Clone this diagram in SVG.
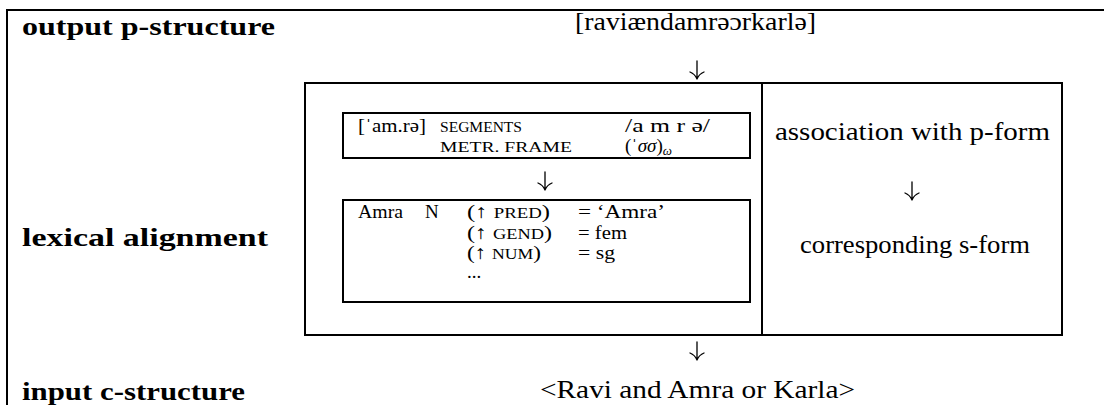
<svg xmlns="http://www.w3.org/2000/svg" width="1104" height="405" viewBox="0 0 1104 405">
<style>
.frame{fill:none;stroke:#000;stroke-width:2}
.t{font-family:"Liberation Serif","Times New Roman",serif;fill:#000}
.main{font-size:25px}
.b{font-weight:bold}
.sm{font-size:19px}
.sc{font-size:14.5px}
.arr{fill:none;stroke:#000;stroke-width:1.3;stroke-linecap:round}
</style>
<rect width="1104" height="405" fill="#fff"/>
<g id="frame">
<path class="frame" d="M7,405 V10 H1104"/>
</g>
<g id="row-labels">
<text class="t main b" x="22" y="35" textLength="253" lengthAdjust="spacingAndGlyphs">output p-structure</text>
<text class="t main b" x="22" y="246" textLength="246" lengthAdjust="spacingAndGlyphs">lexical alignment</text>
<text class="t main b" x="22" y="400" textLength="223" lengthAdjust="spacingAndGlyphs">input c-structure</text>
</g>
<g id="output-form">
<text class="t main" x="575" y="30" textLength="241" lengthAdjust="spacingAndGlyphs">[raviændamrəɔrkarlə]</text>
</g>
<g id="alignment-box">
<rect class="frame" x="305" y="83" width="757" height="252"/>
<line class="frame" x1="762" y1="83" x2="762" y2="335"/>
</g>
<g id="p-form-entry">
<rect class="frame" x="343" y="113" width="407" height="45"/>
<text class="t sm" x="358" y="132" textLength="68" lengthAdjust="spacingAndGlyphs">[ˈam.rə]</text>
<text class="t sc" x="440" y="132" textLength="82" lengthAdjust="spacingAndGlyphs">SEGMENTS</text>
<text class="t sm" x="625" y="132" textLength="85" lengthAdjust="spacingAndGlyphs">/a m r ə/</text>
<text class="t sc" x="440" y="152" textLength="132" lengthAdjust="spacingAndGlyphs">METR.  FRAME</text>
<text class="t sm" x="625" y="152">(ˈ<tspan font-style="italic">σσ</tspan>)<tspan font-style="italic" font-size="13" dy="3">ω</tspan></text>
</g>
<g id="s-form-entry">
<rect class="frame" x="343" y="200" width="407" height="102"/>
<text class="t sm" x="358" y="218" textLength="45" lengthAdjust="spacingAndGlyphs">Amra</text>
<text class="t sm" x="425" y="218">N</text>
<text class="t sm" x="467" y="218" textLength="83" lengthAdjust="spacingAndGlyphs">(↑ <tspan class="sc">PRED</tspan>)</text>
<text class="t sm" x="578" y="218" textLength="87" lengthAdjust="spacingAndGlyphs">= ‘Amra’</text>
<text class="t sm" x="467" y="239" textLength="85" lengthAdjust="spacingAndGlyphs">(↑ <tspan class="sc">GEND</tspan>)</text>
<text class="t sm" x="578" y="239" textLength="49" lengthAdjust="spacingAndGlyphs">= fem</text>
<text class="t sm" x="467" y="259" textLength="74" lengthAdjust="spacingAndGlyphs">(↑ <tspan class="sc">NUM</tspan>)</text>
<text class="t sm" x="578" y="259" textLength="37" lengthAdjust="spacingAndGlyphs">= sg</text>
<text class="t sm" x="467" y="278">...</text>
</g>
<g id="correspondence">
<text class="t main" x="775" y="140" textLength="275" lengthAdjust="spacingAndGlyphs">association with p-form</text>
<text class="t main" x="800" y="253" textLength="230" lengthAdjust="spacingAndGlyphs">corresponding s-form</text>
</g>
<g id="input-form">
<text class="t main" x="540" y="398" textLength="315" lengthAdjust="spacingAndGlyphs">&lt;Ravi and Amra or Karla&gt;</text>
</g>
<g id="connectors">
<path class="arr" d="M697,61 V79 M690,72 Q695,74 697,79 M704,72 Q699,74 697,79"/>
<path class="arr" d="M545,172 V190 M538,183 Q543,185 545,190 M552,183 Q547,185 545,190"/>
<path class="arr" d="M912,182 V200 M905,193 Q910,195 912,200 M919,193 Q914,195 912,200"/>
<path class="arr" d="M697,342 V360 M690,353 Q695,355 697,360 M704,353 Q699,355 697,360"/>
</g>
</svg>
